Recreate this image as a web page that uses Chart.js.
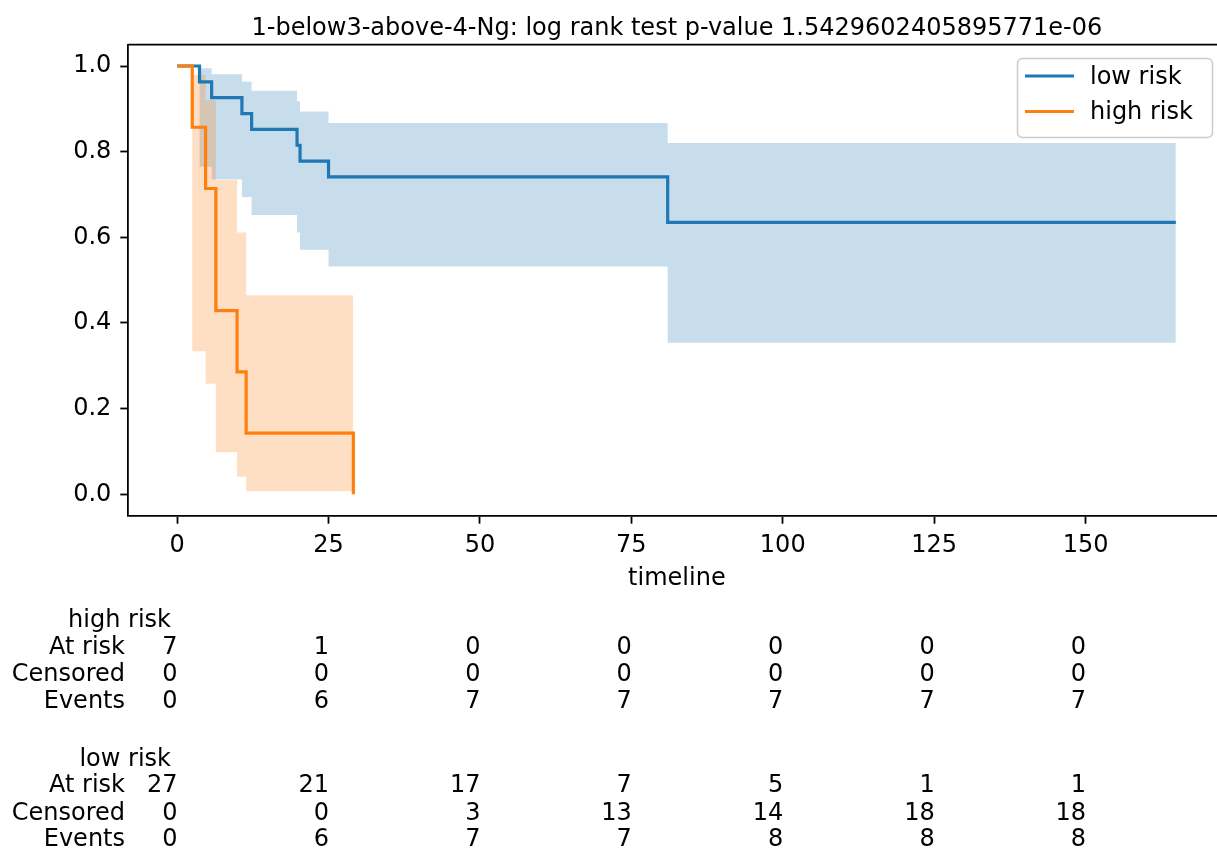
<!DOCTYPE html>
<html>
<head>
<meta charset="utf-8">
<script src="https://cdn.jsdelivr.net/npm/chart.js@4.4.1/dist/chart.umd.min.js"></script>
<style>
  html, body { margin: 0; padding: 0; background: #fff; }
  #wrap { width: 1217px; height: 852px; position: relative; }
</style>
</head>
<body>
<div id="wrap"><canvas id="km"></canvas></div>
<script>
const titleText = '1-below3-above-4-Ng: log rank test p-value 1.5429602405895771e-06';

// low risk group: survival steps + confidence band
const lowTimes = [0, 3.7, 5.7, 10.7, 12.3, 19.8, 20.3, 25.0, 81.0, 164.9];
const lowSurv  = [1, 0.963, 0.926, 0.889, 0.852, 0.815, 0.778, 0.741, 0.635, 0.635];
const lowUpper = [1, 0.995, 0.981, 0.963, 0.942, 0.918, 0.894, 0.867, 0.820, 0.820];
const lowLower = [1, 0.765, 0.735, 0.694, 0.652, 0.611, 0.571, 0.532, 0.354, 0.354];

// high risk group
const highTimes = [0, 2.5, 4.7, 6.4, 9.9, 11.4, 29.1];
const highSurv  = [1, 0.857, 0.714, 0.429, 0.286, 0.143, 0];
const highUpper = [1, 0.979, 0.920, 0.734, 0.611, 0.465, 0.465];
const highLower = [1, 0.334, 0.258, 0.098, 0.041, 0.007, 0.007];

// at-risk table
const tableTicks = [0, 25, 50, 75, 100, 125, 150];
const highAtRisk   = [7, 1, 0, 0, 0, 0, 0];
const highCensored = [0, 0, 0, 0, 0, 0, 0];
const highEvents   = [0, 6, 7, 7, 7, 7, 7];
const lowAtRisk    = [27, 21, 17, 7, 5, 1, 1];
const lowCensored  = [0, 0, 3, 13, 14, 18, 18];
const lowEvents    = [0, 6, 7, 7, 8, 8, 8];

const yTicks = [0, 0.2, 0.4, 0.6, 0.8, 1.0];

const BLUE = '#1f77b4';
const ORANGE = '#ff7f0e';
const FONT = '24px "DejaVu Sans"';

const pts = (xs, ys) => xs.map((x, i) => ({ x, y: ys[i] }));
const band = (label, data, extra) => Object.assign({
  label, data, stepped: true, pointRadius: 0, borderWidth: 0,
  borderColor: 'transparent', fill: false
}, extra);

const kmText = {
  id: 'kmText',
  afterDraw(chart) {
    const { ctx, chartArea: a, scales: { x } } = chart;
    const axRight = x.getPixelForValue(173.1); // matplotlib axes edge, off canvas
    const cx = (a.left + axRight) / 2;
    ctx.save();
    ctx.font = FONT;
    ctx.fillStyle = '#000';
    ctx.textAlign = 'center';
    ctx.textBaseline = 'middle';
    ctx.fillText(titleText, cx, 28.5);
    ctx.fillText('timeline', cx, 578.5);

    // top spine
    ctx.strokeStyle = '#000';
    ctx.lineWidth = 1.8;
    ctx.beginPath();
    ctx.moveTo(a.left, a.top);
    ctx.lineTo(a.right, a.top);
    ctx.stroke();

    // legend
    const lx = 1017.5, ly = 58.5, lw = 195, lh = 79;
    ctx.fillStyle = 'rgba(255,255,255,0.8)';
    ctx.strokeStyle = '#cccccc';
    ctx.lineWidth = 1.5;
    ctx.beginPath();
    ctx.roundRect(lx, ly, lw, lh, 5);
    ctx.fill();
    ctx.stroke();
    [['low risk', BLUE, 76], ['high risk', ORANGE, 111.5]].forEach(([name, col, y]) => {
      ctx.strokeStyle = col;
      ctx.lineWidth = 3.2;
      ctx.beginPath();
      ctx.moveTo(1025, y);
      ctx.lineTo(1074, y);
      ctx.stroke();
      ctx.fillStyle = '#000';
      ctx.textAlign = 'left';
      ctx.fillText(name, 1090, y + 1.5);
    });

    // at-risk counts
    const groups = [
      { name: 'high risk', ys: [621, 647.5, 674.5, 702],
        rows: [['At risk', highAtRisk], ['Censored', highCensored], ['Events', highEvents]] },
      { name: 'low risk', ys: [759.5, 786, 813.5, 840],
        rows: [['At risk', lowAtRisk], ['Censored', lowCensored], ['Events', lowEvents]] }
    ];
    ctx.fillStyle = '#000';
    ctx.textAlign = 'right';
    groups.forEach(g => {
      ctx.fillText(g.name, 171, g.ys[0]);
      g.rows.forEach(([label, vals], r) => {
        const y = g.ys[r + 1];
        ctx.fillText(label, 125, y);
        vals.forEach((v, i) => ctx.fillText(String(v), x.getPixelForValue(tableTicks[i]) + 0.5, y));
      });
    });
    ctx.restore();
  }
};

new Chart(document.getElementById('km'), {
  type: 'line',
  data: {
    datasets: [
      { label: 'high risk', data: pts(highTimes, highSurv), stepped: true, borderColor: ORANGE,
        borderWidth: 3.2, pointRadius: 0, fill: false },
      { label: 'low risk', data: pts(lowTimes, lowSurv), stepped: true, borderColor: BLUE,
        borderWidth: 3.2, pointRadius: 0, fill: false },
      band('high lower', pts(highTimes, highLower), { fill: '+1', backgroundColor: 'rgba(255,127,14,0.25)' }),
      band('high upper', pts(highTimes, highUpper)),
      band('low lower', pts(lowTimes, lowLower), { fill: '+1', backgroundColor: 'rgba(31,119,180,0.25)' }),
      band('low upper', pts(lowTimes, lowUpper))
    ]
  },
  plugins: [kmText],
  options: {
    responsive: true,
    maintainAspectRatio: false,
    animation: false,
    layout: { padding: { top: 44.6, left: 0, right: 0, bottom: 0 } },
    plugins: { legend: { display: false }, tooltip: { enabled: false }, title: { display: false } },
    scales: {
      x: {
        type: 'linear', min: -8.06, max: 171.7,
        afterFit: s => { s.height = 336.3; },
        afterBuildTicks: s => { s.ticks = tableTicks.map(v => ({ value: v })); },
        ticks: { font: { family: 'DejaVu Sans', size: 24 }, color: '#000', padding: 7.5,
                 maxRotation: 0, autoSkip: false, callback: v => String(v) },
        grid: { drawOnChartArea: false, tickLength: 8, tickColor: '#000', tickWidth: 1.8 },
        border: { display: true, color: '#000', width: 1.8 }
      },
      y: {
        type: 'linear', min: -0.05, max: 1.05,
        afterFit: s => { s.width = 128.3; },
        afterBuildTicks: s => { s.ticks = yTicks.map(v => ({ value: v })); },
        ticks: { font: { family: 'DejaVu Sans', size: 24 }, color: '#000', padding: 9,
                 autoSkip: false, callback: v => v.toFixed(1) },
        grid: { drawOnChartArea: false, tickLength: 8, tickColor: '#000', tickWidth: 1.8 },
        border: { display: true, color: '#000', width: 1.8 }
      }
    }
  }
});
</script>
</body>
</html>
